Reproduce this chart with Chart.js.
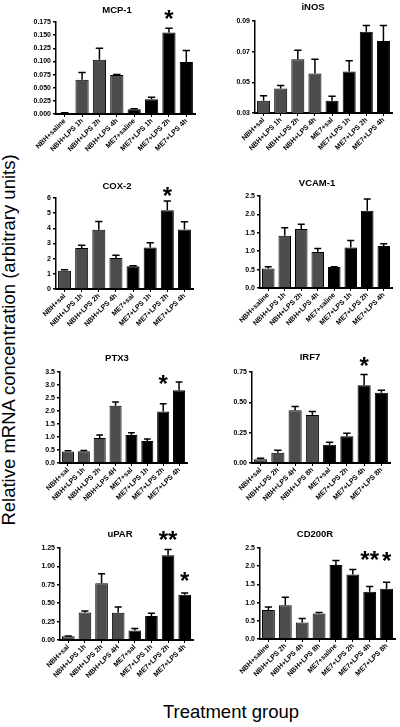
<!DOCTYPE html>
<html>
<head>
<meta charset="utf-8">
<script src="https://cdn.jsdelivr.net/npm/chart.js@4.4.0/dist/chart.umd.min.js"></script>
<style>
  body { margin: 0; width: 400px; height: 727px; background: #fff; position: relative; overflow: hidden;
         font-family: "Liberation Sans", Arial, sans-serif; }
  canvas { position: absolute; }
  #ylab { position: absolute; left: 9px; top: 340px; transform: translate(-50%, -50%) rotate(-90deg);
          white-space: nowrap; font-size: 18.5px; color: #000; }
  #xlab { position: absolute; left: 231px; top: 712px; transform: translate(-50%, -50%);
          white-space: nowrap; font-size: 18.5px; color: #000; }
</style>
</head>
<body>
<div id="ylab">Relative mRNA concentration (arbitrary units)</div>
<div id="xlab">Treatment group</div>
<script>
// categories
var labelsA = ['NBH+saline', 'NBH+LPS 1h', 'NBH+LPS 2h', 'NBH+LPS 4h', 'ME7+saline', 'ME7+LPS 1h', 'ME7+LPS 2h', 'ME7+LPS 4h'];
var labelsB = ['NBH+sal', 'NBH+LPS 1h', 'NBH+LPS 2h', 'NBH+LPS 4h', 'ME7+sal', 'ME7+LPS 1h', 'ME7+LPS 2h', 'ME7+LPS 4h'];
var labelsC = ['NBH+sal', 'NBH+LPS 1h', 'NBH+LPS 2h', 'NBH+LPS 4H', 'ME7+sal', 'ME7+LPS 1h', 'ME7+LPS 2h', 'ME7+LPS 4h'];
var labelsIrf = ['NBH+sal', 'NBH+LPS 2h', 'NBH+LPS 4H', 'NBH+LPS 8h', 'ME7+sal', 'ME7+LPS 2h', 'ME7+LPS 4h', 'ME7+LPS 8h'];
var labelsCd = ['NBH+saline', 'NBH+LPS 2h', 'NBH+LPS 4h', 'NBH+LPS 8h', 'ME7+saline', 'ME7+LPS 2h', 'ME7+LPS 4h', 'ME7+LPS 8h'];

// means and SEM (upper error only)
var mcpValues = [0.002, 0.065, 0.103, 0.074, 0.009, 0.028, 0.155, 0.099];
var mcpErrors = [0.0005, 0.014, 0.022, 0.001, 0.001, 0.004, 0.008, 0.022];
var inosValues = [0.038, 0.046, 0.065, 0.0557, 0.038, 0.057, 0.083, 0.077];
var inosErrors = [0.0033, 0.002, 0.006, 0.0093, 0.003, 0.007, 0.004, 0.010];
var coxValues = [1.2, 2.7, 3.9, 2.05, 1.5, 2.73, 5.2, 3.92];
var coxErrors = [0.07, 0.18, 0.55, 0.18, 0.04, 0.32, 0.6, 0.52];
var vcamValues = [0.53, 1.42, 1.6, 0.98, 0.57, 1.1, 2.1, 1.14];
var vcamErrors = [0.05, 0.22, 0.13, 0.09, 0.01, 0.19, 0.32, 0.06];
var ptxValues = [0.44, 0.45, 0.96, 2.2, 1.08, 0.85, 1.98, 2.8];
var ptxErrors = [0.03, 0.03, 0.12, 0.15, 0.08, 0.07, 0.3, 0.32];
var irfValues = [0.03, 0.085, 0.435, 0.395, 0.15, 0.22, 0.64, 0.58];
var irfErrors = [0.01, 0.02, 0.03, 0.03, 0.02, 0.025, 0.09, 0.02];
var uparValues = [0.05, 0.375, 0.77, 0.37, 0.13, 0.325, 1.15, 0.615];
var uparErrors = [0.005, 0.02, 0.13, 0.08, 0.025, 0.04, 0.08, 0.025];
var cdValues = [0.8, 0.93, 0.45, 0.7, 2.03, 1.77, 1.3, 1.38];
var cdErrors = [0.08, 0.22, 0.11, 0.03, 0.13, 0.14, 0.14, 0.18];

// y tick labels
var mcpTicks = [0, 0.025, 0.05, 0.075, 0.1, 0.125, 0.15, 0.175];
var inosTicks = [0.03, 0.05, 0.07, 0.09];
var coxTicks = [0, 1, 2, 3, 4, 5, 6];
var vcamTicks = [0, 0.5, 1, 1.5, 2, 2.5];
var ptxTicks = [0, 0.5, 1, 1.5, 2, 2.5, 3, 3.5];
var irfTicks = [0, 0.25, 0.5, 0.75];
var uparTicks = [0, 0.25, 0.5, 0.75, 1, 1.25];
var cdTicks = [0, 0.5, 1, 1.5, 2, 2.5];

var FONT = '"Liberation Sans", Arial, sans-serif';
var YW = 32, XH = 62, PT = 26, PR = 4;

// plot = [left, top, right, bottom] of the plot area on the page
var panels = [
  { title: 'MCP-1', labels: labelsA, values: mcpValues, errors: mcpErrors, ticks: mcpTicks, dec: 3,
    plot: [56, 22, 195, 114], titleAt: [117, 10], stars: [[6, '*', 15]] },
  { title: 'iNOS', labels: labelsB, values: inosValues, errors: inosErrors, ticks: inosTicks, dec: 2,
    plot: [255, 21, 392, 113], titleAt: [313, 7], stars: [] },
  { title: 'COX-2', labels: labelsB, values: coxValues, errors: coxErrors, ticks: coxTicks, dec: 0,
    plot: [56, 198, 193, 289], titleAt: [117, 186], stars: [[6, '*', 11]] },
  { title: 'VCAM-1', labels: labelsA, values: vcamValues, errors: vcamErrors, ticks: vcamTicks, dec: 1,
    plot: [260, 196, 392, 288], titleAt: [317, 183], stars: [] },
  { title: 'PTX3', labels: labelsC, values: ptxValues, errors: ptxErrors, ticks: ptxTicks, dec: 1,
    plot: [60, 372, 187, 463], titleAt: [117, 358], stars: [[6, '*', 25]] },
  { title: 'IRF7', labels: labelsIrf, values: irfValues, errors: irfErrors, ticks: irfTicks, dec: 2,
    plot: [252, 372, 390, 463], titleAt: [310, 357], stars: [[6, '*', 14]] },
  { title: 'uPAR', labels: labelsC, values: uparValues, errors: uparErrors, ticks: uparTicks, dec: 2,
    plot: [60, 548, 193, 640], titleAt: [120, 534], stars: [[6, '**', 15], [7, '*', 18]] },
  { title: 'CD200R', labels: labelsCd, values: cdValues, errors: cdErrors, ticks: cdTicks, dec: 1,
    plot: [260, 548, 395, 639], titleAt: [315, 534], stars: [[6, '**', 32], [7, '*', 27]] }
];

// error bars, titles and significance stars
var extrasPlugin = {
  id: 'extras',
  afterDatasetsDraw: function(chart) {
    var p = chart.options.plugins.extras;
    var ctx = chart.ctx;
    var yScale = chart.scales.y;
    var meta = chart.getDatasetMeta(0);
    ctx.save();
    ctx.strokeStyle = '#000';
    ctx.lineWidth = 1.5;
    meta.data.forEach(function(bar, i) {
      var top = yScale.getPixelForValue(p.values[i]);
      var errTop = yScale.getPixelForValue(p.values[i] + p.errors[i]);
      var cap = bar.width * 0.28;
      ctx.beginPath();
      ctx.moveTo(bar.x, top);
      ctx.lineTo(bar.x, errTop);
      ctx.moveTo(bar.x - cap, errTop);
      ctx.lineTo(bar.x + cap, errTop);
      ctx.stroke();
    });
    // title
    ctx.fillStyle = '#000';
    ctx.font = 'bold 9.5px ' + FONT;
    ctx.textAlign = 'center';
    ctx.textBaseline = 'middle';
    ctx.fillText(p.title, p.titleX, p.titleY);
    // stars
    ctx.font = 'bold 24px ' + FONT;
    ctx.textBaseline = 'alphabetic';
    p.stars.forEach(function(s) {
      var bar = meta.data[s[0]];
      var errTop = yScale.getPixelForValue(p.values[s[0]] + p.errors[s[0]]);
      var cy = errTop - s[2];
      ctx.fillText(s[1], bar.x, cy + 0.57 * 24);
    });
    ctx.restore();
  }
};

panels.forEach(function(p) {
  var left = p.plot[0] - YW, top = p.plot[1] - PT;
  var w = p.plot[2] - p.plot[0] + YW + PR;
  var h = p.plot[3] - p.plot[1] + PT + XH;
  var cv = document.createElement('canvas');
  cv.width = w; cv.height = h;
  cv.style.left = left + 'px'; cv.style.top = top + 'px';
  cv.style.width = w + 'px'; cv.style.height = h + 'px';
  document.body.appendChild(cv);

  var colors = p.values.map(function(v, i) { return i < 4 ? '#4d4d4d' : '#000'; });
  var tickVals = p.ticks;

  new Chart(cv, {
    type: 'bar',
    data: {
      labels: p.labels,
      datasets: [{
        data: p.values,
        backgroundColor: colors,
        borderColor: '#000',
        borderWidth: 1,
        categoryPercentage: 1,
        barPercentage: 0.76
      }]
    },
    options: {
      responsive: false,
      animation: false,
      devicePixelRatio: 1,
      layout: { padding: { top: PT, right: PR, left: 0, bottom: 0 } },
      plugins: {
        legend: { display: false },
        tooltip: { enabled: false },
        extras: {
          values: p.values, errors: p.errors, title: p.title, stars: p.stars,
          titleX: p.titleAt[0] - left, titleY: p.titleAt[1] - top
        }
      },
      scales: {
        x: {
          grid: { display: true, drawOnChartArea: false, drawTicks: true, tickLength: 3,
                  offset: false, color: '#000', lineWidth: 1 },
          border: { display: true, color: '#000', width: 2 },
          ticks: { minRotation: 45, maxRotation: 45, autoSkip: false, padding: 0,
                   color: '#000', font: { family: FONT, size: 7, weight: 'bold' } },
          afterFit: function(s) { s.height = XH; }
        },
        y: {
          min: tickVals[0],
          max: tickVals[tickVals.length - 1],
          afterBuildTicks: function(s) {
            s.ticks = tickVals.map(function(v) { return { value: v }; });
          },
          grid: { display: true, drawOnChartArea: false, drawTicks: true, tickLength: 3,
                  color: '#000', lineWidth: 1.5 },
          border: { display: true, color: '#000', width: 1.5 },
          ticks: {
            padding: 2, color: '#000', font: { family: FONT, size: 7, weight: 'bold' },
            callback: function(v) { return Number(v).toFixed(p.dec); }
          },
          afterFit: function(s) { s.width = YW; }
        }
      }
    },
    plugins: [extrasPlugin]
  });
});
</script>
</body>
</html>
